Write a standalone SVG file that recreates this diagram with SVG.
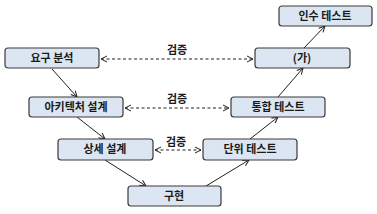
<svg xmlns="http://www.w3.org/2000/svg" width="377" height="214" viewBox="0 0 377 214">
<style>
.box{fill:#dce6f2;stroke:#3a3a3a;stroke-width:1.2}
.t{font-family:"Noto Sans CJK KR","Noto Sans",sans-serif;font-size:11px;font-weight:bold;fill:#1a1a1a;text-anchor:middle}
.solid{stroke:#222;stroke-width:1;fill:none;marker-end:url(#ah)}
.dash{stroke:#222;stroke-width:1;fill:none;stroke-dasharray:3,2.5;marker-start:url(#ahs);marker-end:url(#ah)}
</style>
<defs>
<marker id="ah" viewBox="0 0 8 8" refX="7" refY="4" markerWidth="8" markerHeight="8" markerUnits="userSpaceOnUse" orient="auto"><path d="M1,1 L7,4 L1,7" fill="none" stroke="#222" stroke-width="1"/></marker>
<marker id="ahs" viewBox="0 0 8 8" refX="7" refY="4" markerWidth="8" markerHeight="8" markerUnits="userSpaceOnUse" orient="auto-start-reverse"><path d="M1,1 L7,4 L1,7" fill="none" stroke="#222" stroke-width="1"/></marker>
</defs>
<rect width="377" height="214" fill="#fff"/>
<g id="connectors">
<line class="solid" x1="52" y1="69" x2="77" y2="97"/>
<line class="solid" x1="77" y1="117" x2="105" y2="139"/>
<line class="solid" x1="105" y1="160" x2="146" y2="186"/>
<line class="solid" x1="206" y1="186" x2="249" y2="160"/>
<line class="solid" x1="250" y1="139" x2="278" y2="117"/>
<line class="solid" x1="278" y1="97" x2="303" y2="68"/>
<line class="solid" x1="304" y1="48" x2="325" y2="26"/>
<line class="dash" x1="101" y1="59" x2="253" y2="59"/>
<line class="dash" x1="125" y1="108" x2="229" y2="108"/>
<line class="dash" x1="155" y1="150" x2="201" y2="150"/>
<text class="t" x="177" y="54">검증</text>
<text class="t" x="177" y="103">검증</text>
<text class="t" x="176" y="146">검증</text>
</g>
<g id="n1"><rect class="box" x="5" y="48" width="94" height="20" rx="3"/><text class="t" x="52" y="62">요구 분석</text></g>
<g id="n2"><rect class="box" x="29" y="97" width="94" height="20" rx="3"/><text class="t" x="76" y="111">아키텍처 설계</text></g>
<g id="n3"><rect class="box" x="58" y="139" width="95" height="21" rx="3"/><text class="t" x="105" y="153">상세 설계</text></g>
<g id="n4"><rect class="box" x="128" y="186" width="93" height="20" rx="3"/><text class="t" x="174" y="200">구현</text></g>
<g id="n5"><rect class="box" x="203" y="139" width="94" height="21" rx="3"/><text class="t" x="250" y="153">단위 테스트</text></g>
<g id="n6"><rect class="box" x="231" y="97" width="94" height="20" rx="3"/><text class="t" x="278" y="111">통합 테스트</text></g>
<g id="n7"><rect class="box" x="255" y="48" width="95" height="20" rx="3"/><text class="t" x="302" y="62">(가)</text></g>
<g id="n8"><rect class="box" x="279" y="6" width="93" height="20" rx="3"/><text class="t" x="325" y="20">인수 테스트</text></g>
</svg>
